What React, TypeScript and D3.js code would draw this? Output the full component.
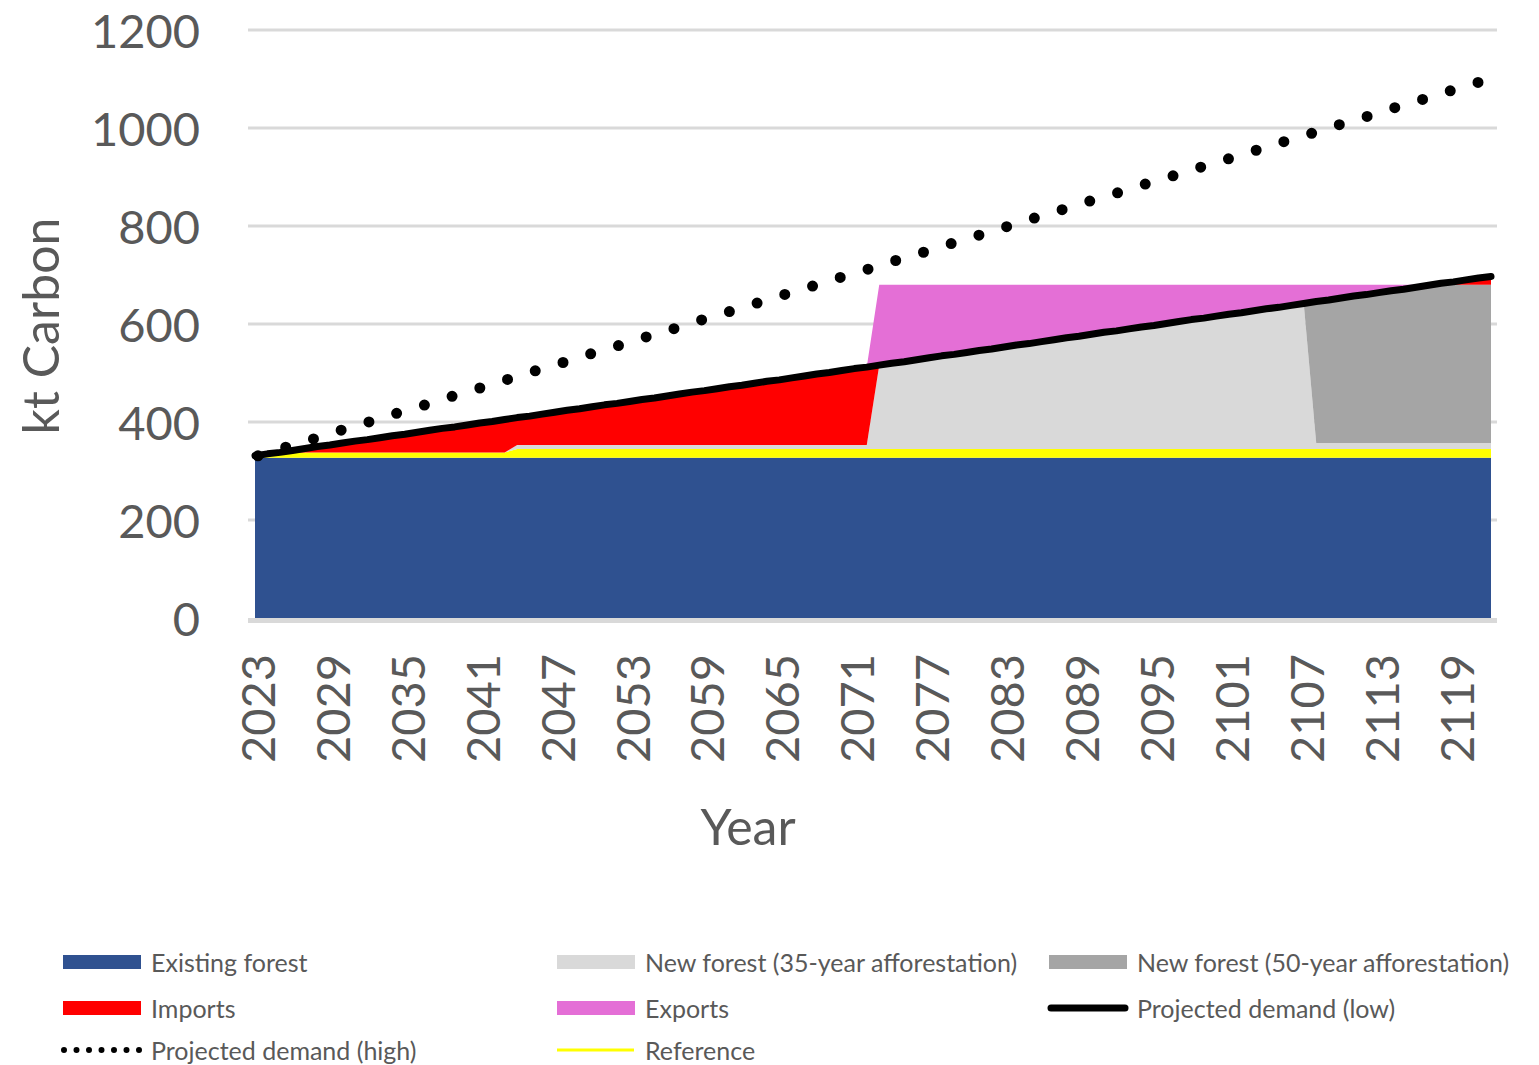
import React from 'react';
import * as d3 from 'd3';

const years: number[] = d3.range(2023, 2123);
const tickYears = [2023, 2029, 2035, 2041, 2047, 2053, 2059, 2065, 2071, 2077, 2083, 2089, 2095, 2101, 2107, 2113, 2119];
const yTicks = [0, 200, 400, 600, 800, 1000, 1200];

const existingForest = [
  327, 327, 327, 327, 327, 327, 327, 327, 327, 327,
  327, 327, 327, 327, 327, 327, 327, 327, 327, 327,
  327, 327, 327, 327, 327, 327, 327, 327, 327, 327,
  327, 327, 327, 327, 327, 327, 327, 327, 327, 327,
  327, 327, 327, 327, 327, 327, 327, 327, 327, 327,
  327, 327, 327, 327, 327, 327, 327, 327, 327, 327,
  327, 327, 327, 327, 327, 327, 327, 327, 327, 327,
  327, 327, 327, 327, 327, 327, 327, 327, 327, 327,
  327, 327, 327, 327, 327, 327, 327, 327, 327, 327,
  327, 327, 327, 327, 327, 327, 327, 327, 327, 327,
];

const reference = [
  338, 338, 338, 338, 338, 338, 338, 338, 338, 338,
  338, 338, 338, 338, 338, 338, 338, 338, 338, 338,
  338, 345, 345, 345, 345, 345, 345, 345, 345, 345,
  345, 345, 345, 345, 345, 345, 345, 345, 345, 345,
  345, 345, 345, 345, 345, 345, 345, 345, 345, 345,
  345, 345, 345, 345, 345, 345, 345, 345, 345, 345,
  345, 345, 345, 345, 345, 345, 345, 345, 345, 345,
  345, 345, 345, 345, 345, 345, 345, 345, 345, 345,
  345, 345, 345, 345, 345, 345, 345, 345, 345, 345,
  345, 345, 345, 345, 345, 345, 345, 345, 345, 345,
];

const newForest35 = [
  0, 0, 0, 0, 0, 0, 0, 0, 0, 0,
  0, 0, 0, 0, 0, 0, 0, 0, 0, 0,
  0, 8, 8, 8, 8, 8, 8, 8, 8, 8,
  8, 8, 8, 8, 8, 8, 8, 8, 8, 8,
  8, 8, 8, 8, 8, 8, 8, 8, 8, 8,
  171, 175, 178, 182, 186, 190, 193, 197, 201, 204,
  208, 212, 215, 219, 223, 227, 230, 234, 238, 241,
  245, 249, 252, 256, 260, 264, 267, 271, 275, 278,
  282, 286, 289, 293, 297, 12, 12, 12, 12, 12,
  12, 12, 12, 12, 12, 12, 12, 12, 12, 12,
];

const newForest50 = [
  0, 0, 0, 0, 0, 0, 0, 0, 0, 0,
  0, 0, 0, 0, 0, 0, 0, 0, 0, 0,
  0, 0, 0, 0, 0, 0, 0, 0, 0, 0,
  0, 0, 0, 0, 0, 0, 0, 0, 0, 0,
  0, 0, 0, 0, 0, 0, 0, 0, 0, 0,
  0, 0, 0, 0, 0, 0, 0, 0, 0, 0,
  0, 0, 0, 0, 0, 0, 0, 0, 0, 0,
  0, 0, 0, 0, 0, 0, 0, 0, 0, 0,
  0, 0, 0, 0, 0, 289, 292, 296, 300, 303,
  307, 311, 314, 318, 322, 323, 323, 323, 323, 323,
];

const imports = [
  0, 0, 0, 4, 8, 12, 15, 19, 23, 26,
  30, 34, 37, 41, 45, 49, 52, 56, 60, 63,
  67, 56, 59, 63, 67, 71, 74, 78, 82, 85,
  89, 93, 96, 100, 104, 108, 111, 115, 119, 122,
  126, 130, 133, 137, 141, 145, 148, 152, 156, 159,
  0, 0, 0, 0, 0, 0, 0, 0, 0, 0,
  0, 0, 0, 0, 0, 0, 0, 0, 0, 0,
  0, 0, 0, 0, 0, 0, 0, 0, 0, 0,
  0, 0, 0, 0, 0, 0, 0, 0, 0, 0,
  0, 0, 0, 0, 0, 3, 6, 10, 14, 17,
];

const exportsArr = [
  0, 0, 0, 0, 0, 0, 0, 0, 0, 0,
  0, 0, 0, 0, 0, 0, 0, 0, 0, 0,
  0, 0, 0, 0, 0, 0, 0, 0, 0, 0,
  0, 0, 0, 0, 0, 0, 0, 0, 0, 0,
  0, 0, 0, 0, 0, 0, 0, 0, 0, 0,
  164, 160, 157, 153, 149, 145, 142, 138, 134, 131,
  127, 123, 120, 116, 112, 108, 105, 101, 97, 94,
  90, 86, 83, 79, 75, 71, 68, 64, 60, 57,
  53, 49, 46, 42, 38, 34, 31, 27, 23, 20,
  16, 12, 9, 5, 1, 0, 0, 0, 0, 0,
];

const demandLow = [
  331, 335, 338, 342, 346, 350, 353, 357, 361, 364,
  368, 372, 375, 379, 383, 387, 390, 394, 398, 401,
  405, 409, 412, 416, 420, 424, 427, 431, 435, 438,
  442, 446, 449, 453, 457, 461, 464, 468, 472, 475,
  479, 483, 486, 490, 494, 498, 501, 505, 509, 512,
  516, 520, 523, 527, 531, 535, 538, 542, 546, 549,
  553, 557, 560, 564, 568, 572, 575, 579, 583, 586,
  590, 594, 597, 601, 605, 609, 612, 616, 620, 623,
  627, 631, 634, 638, 642, 646, 649, 653, 657, 660,
  664, 668, 671, 675, 679, 683, 686, 690, 694, 697,
];

const demandHigh = [
  331, 339, 347, 354, 362, 370, 378, 386, 393, 401,
  409, 417, 425, 432, 440, 448, 456, 464, 471, 479,
  487, 495, 503, 510, 518, 526, 534, 542, 549, 557,
  565, 573, 581, 588, 596, 604, 612, 620, 627, 635,
  643, 651, 659, 666, 674, 682, 690, 698, 705, 713,
  721, 729, 737, 744, 752, 760, 768, 776, 783, 791,
  799, 807, 815, 822, 830, 838, 846, 854, 861, 869,
  877, 885, 893, 900, 908, 916, 924, 932, 939, 947,
  955, 963, 971, 978, 986, 994, 1002, 1010, 1017, 1025,
  1033, 1041, 1049, 1056, 1064, 1072, 1080, 1088, 1095, 1103,
];

const COLORS = {
  existing: '#2F5190',
  nf35: '#D9D9D9',
  nf50: '#A5A5A5',
  imports: '#FF0000',
  exports: '#E46FD6',
  low: '#000000',
  reference: '#FFFF00',
};

const FONT = 'Lato, "Open Sans", sans-serif';
const TEXT = '#595959';

export default function App() {
  const x = d3.scaleLinear().domain([2023, 2122]).range([255, 1491]);
  const y = d3.scaleLinear().domain([0, 1200]).range([618, 30]);

  const table = years.map((yr, i) => ({
    year: yr,
    nf35: newForest35[i],
    nf50: newForest50[i],
    imports: imports[i],
    exports: exportsArr[i],
  }));
  const keys = ['nf35', 'nf50', 'imports', 'exports'];
  const stacked = d3.stack<any>().keys(keys)(table);

  const blueArea = d3
    .area<number>()
    .x((_, i) => x(years[i]))
    .y0(() => y(0))
    .y1((d) => y(d))(existingForest);

  const yellowArea = d3
    .area<number>()
    .x((_, i) => x(years[i]))
    .y0((_, i) => y(existingForest[i]))
    .y1((d) => y(d))(reference);

  const stackArea = d3
    .area<any>()
    .x((_, i) => x(years[i]))
    .y0((d, i) => y(d[0] + reference[i]))
    .y1((d, i) => y(d[1] + reference[i]));

  const lineGen = d3
    .line<number>()
    .x((_, i) => x(years[i]))
    .y((d) => y(d));

  const stackColors: Record<string, string> = {
    nf35: COLORS.nf35,
    nf50: COLORS.nf50,
    imports: COLORS.imports,
    exports: COLORS.exports,
  };

  const legendCols = [63, 557, 1049];
  const legendRows = [962, 1008, 1050];
  const legendItems = [
    { label: 'Existing forest', kind: 'rect', color: COLORS.existing, c: 0, r: 0 },
    { label: 'New forest (35-year afforestation)', kind: 'rect', color: COLORS.nf35, c: 1, r: 0 },
    { label: 'New forest (50-year afforestation)', kind: 'rect', color: COLORS.nf50, c: 2, r: 0 },
    { label: 'Imports', kind: 'rect', color: COLORS.imports, c: 0, r: 1 },
    { label: 'Exports', kind: 'rect', color: COLORS.exports, c: 1, r: 1 },
    { label: 'Projected demand (low)', kind: 'thick', color: COLORS.low, c: 2, r: 1 },
    { label: 'Projected demand (high)', kind: 'dots', color: '#000', c: 0, r: 2 },
    { label: 'Reference', kind: 'thin', color: COLORS.reference, c: 1, r: 2 },
  ];

  return (
    <svg
      width={1539}
      height={1065}
      style={{ position: 'absolute', left: 0, top: 0, background: '#fff' }}
      fontFamily={FONT}
    >
      <rect x={0} y={0} width={1539} height={1065} fill="#fff" />
      {yTicks.map((t) => (
        <line
          key={'g' + t}
          x1={248}
          x2={1497}
          y1={t === 0 ? y(t) + 2.5 : y(t)}
          y2={t === 0 ? y(t) + 2.5 : y(t)}
          stroke="#D9D9D9"
          strokeWidth={t === 0 ? 5 : 3}
        />
      ))}
      <path d={blueArea || ''} fill={COLORS.existing} />
      <path d={yellowArea || ''} fill={COLORS.reference} />
      {stacked.map((s) => (
        <path key={s.key} d={stackArea(s as any) || ''} fill={stackColors[s.key]} />
      ))}
      <path
        d={lineGen(demandLow) || ''}
        fill="none"
        stroke={COLORS.low}
        strokeWidth={7}
        strokeLinecap="round"
        strokeLinejoin="round"
      />
      <path
        d={lineGen(demandHigh) || ''}
        fill="none"
        stroke="#000"
        strokeWidth={11}
        strokeLinecap="round"
        strokeDasharray="0 29"
        transform="translate(3,0)"
      />
      {yTicks.map((t) => (
        <text
          key={'yt' + t}
          x={200}
          y={y(t)}
          textAnchor="end"
          dominantBaseline="central"
          fontSize={47}
          fill={TEXT}
        >
          {t}
        </text>
      ))}
      {tickYears.map((yr) => (
        <text
          key={'xt' + yr}
          transform={`translate(${x(yr) + 2},${654}) rotate(-90)`}
          textAnchor="end"
          dominantBaseline="central"
          fontSize={47}
          fill={TEXT}
        >
          {yr}
        </text>
      ))}
      <text
        transform="translate(40,326) rotate(-90)"
        textAnchor="middle"
        dominantBaseline="central"
        fontSize={50}
        fill={TEXT}
      >
        kt Carbon
      </text>
      <text x={748} y={826} textAnchor="middle" dominantBaseline="central" fontSize={50} fill={TEXT}>
        Year
      </text>
      {legendItems.map((it) => {
        const lx = legendCols[it.c];
        const ly = legendRows[it.r];
        let sym: React.ReactNode = null;
        if (it.kind === 'rect') {
          sym = <rect x={lx} y={ly - 7} width={78} height={14} fill={it.color} />;
        } else if (it.kind === 'thick') {
          sym = (
            <line x1={lx + 2} x2={lx + 76} y1={ly} y2={ly} stroke={it.color} strokeWidth={7} strokeLinecap="round" />
          );
        } else if (it.kind === 'thin') {
          sym = <line x1={lx} x2={lx + 77} y1={ly} y2={ly} stroke={it.color} strokeWidth={3} />;
        } else {
          sym = (
            <line
              x1={lx + 1}
              x2={lx + 77}
              y1={ly}
              y2={ly}
              stroke={it.color}
              strokeWidth={6}
              strokeLinecap="round"
              strokeDasharray="0 12.5"
            />
          );
        }
        return (
          <g key={it.label}>
            {sym}
            <text x={lx + 88} y={ly} dominantBaseline="central" fontSize={25} fill={TEXT}>
              {it.label}
            </text>
          </g>
        );
      })}
    </svg>
  );
}
